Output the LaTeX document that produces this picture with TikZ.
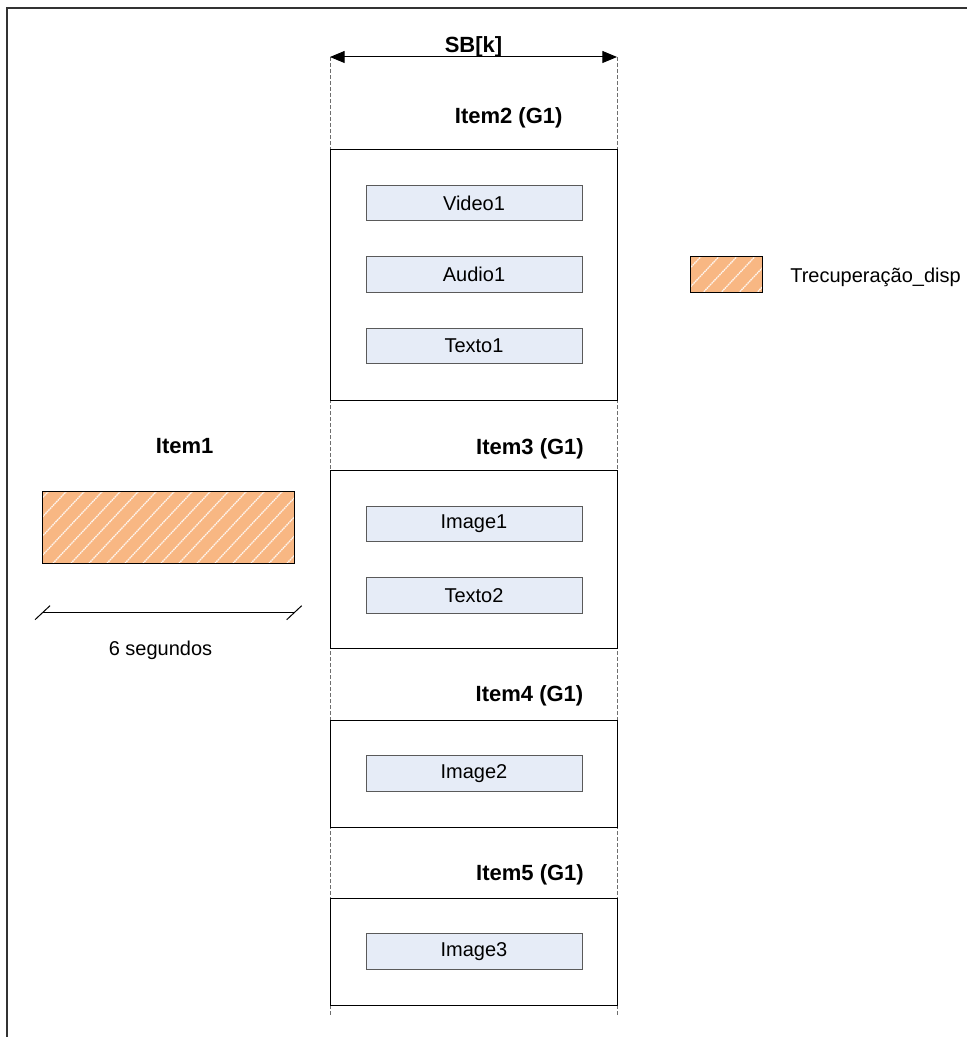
\documentclass[tikz,border=0pt]{standalone}
\usepackage{fontspec}
\setmainfont{Liberation Sans}
\usetikzlibrary{arrows.meta}
\definecolor{hatchorange}{RGB}{248,183,131}
\definecolor{mediafill}{RGB}{230,236,247}
\definecolor{mediadraw}{RGB}{90,90,90}
\definecolor{guide}{RGB}{110,110,110}
\begin{document}
\begin{tikzpicture}[x=0.75pt,y=-0.75pt,
  media/.style={draw=mediadraw,fill=mediafill,line width=0.75pt,
    minimum width=162pt,minimum height=26.5pt,inner sep=0pt,
    font=\fontsize{15}{18}\selectfont},
  slot/.style={draw=black,line width=0.75pt,minimum width=215.25pt,inner sep=0pt},
  itemlabel/.style={font=\bfseries\fontsize{16.5}{20}\selectfont,anchor=base,inner sep=0pt},
  plainlabel/.style={font=\fontsize{15}{18}\selectfont,inner sep=0pt},
  guideline/.style={draw=guide,line width=0.75pt,dash pattern=on 3pt off 1.5pt},
  hatchline/.style={white,line width=1pt,dash pattern=on 1.2pt off 0.5pt,opacity=0.85},
  hatchframe/.style={draw=black,line width=0.75pt},
  tip/.tip={Triangle[length=11pt,width=9pt]},
]
\useasboundingbox (0,0) rectangle (967,1037);

% page frame (top and left edges)
\draw[line width=1.1pt,draw=black!80] (7,1037) -- (7,8) -- (967,8);

% boundaries of the buffer SB[k]
\coordinate (sbTL) at (330,57);
\coordinate (sbTR) at (617,57);
\coordinate (sbBL) at (330,1017);
\coordinate (sbBR) at (617,1017);
\draw[guideline] (sbTL) -- (sbBL);
\draw[guideline] (sbTR) -- (sbBR);
\draw[tip-tip,line width=0.75pt] (sbTL) -- (sbTR);
\node[itemlabel] (sblabel) at (473.5,52.3) {SB[k]};

% item slots inside the buffer
\node[slot,minimum height=187.5pt] (slot2) at (473.5,275) {};
\node[slot,minimum height=133.5pt] (slot3) at (473.5,559) {};
\node[slot,minimum height=80.25pt] (slot4) at (473.5,773.5) {};
\node[slot,minimum height=80.25pt] (slot5) at (473.5,951.5) {};

\node[itemlabel] (lab2) at (508.7,124) {Item2 (G1)};
\node[itemlabel] (lab3) at (530,454) {Item3 (G1)};
\node[itemlabel] (lab4) at (529.5,701.7) {Item4 (G1)};
\node[itemlabel] (lab5) at (530,880) {Item5 (G1)};

% media objects
\node[media] (video1) at (474,203) {Video1};
\node[media] (audio1) at (474,274.5) {Audio1};
\node[media] (texto1) at (474,346) {Texto1};
\node[media] (image1) at (474,524) {Image1};
\node[media] (texto2) at (474,595.5) {Texto2};
\node[media] (image2) at (474,773.5) {Image2};
\node[media] (image3) at (474,951.5) {Image3};

% Item1 with its retrieval time
\node[itemlabel] (lab1) at (184.7,453) {Item1};
\fill[hatchorange] (42.3,491.7) rectangle (294.3,563.3);
\begin{scope}
  \clip (42.3,491.7) rectangle (294.3,563.3);
  \foreach \s in {-30,-12,...,300}
    \draw[hatchline] (\s,575) -- ++(90,-96);
\end{scope}
\draw[hatchframe] (42.3,491.7) rectangle (294.3,563.3);

\coordinate (dimL) at (42.5,612.7);
\coordinate (dimR) at (294.2,612.7);
\draw[line width=0.75pt] (dimL) -- (dimR);
\draw[line width=0.75pt] (dimL) ++(-7.5,7) -- ++(15,-14);
\draw[line width=0.75pt] (dimR) ++(-7.5,7) -- ++(15,-14);
\node[plainlabel,anchor=base] (dur) at (160.5,655) {6 segundos};

% legend
\fill[hatchorange] (690,257) rectangle (762,292.3);
\begin{scope}
  \clip (690,257) rectangle (762,292.3);
  \foreach \s in {660,678,...,780}
    \draw[hatchline] (\s,300) -- ++(50,-53);
\end{scope}
\draw[hatchframe] (690,257) rectangle (762,292.3);
\node[plainlabel,anchor=base west] (legtext) at (790,282) {Trecuperação\_disp};
\end{tikzpicture}
\end{document}
